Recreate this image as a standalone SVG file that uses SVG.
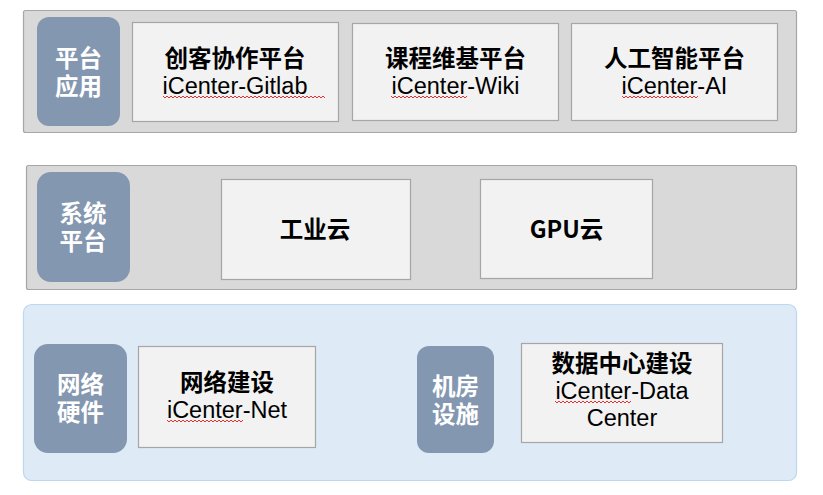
<svg xmlns="http://www.w3.org/2000/svg" width="823" height="495" viewBox="0 0 823 495">
<defs>
<style>
.panel{fill:#d9d9d9;stroke:#a6a6a6;stroke-width:1.2}
.panelb{fill:#deeaf6;stroke:#bdd7ee;stroke-width:1.2}
.lab{fill:#8497b0}
.box{fill:#f2f2f2;stroke:#a6a6a6;stroke-width:1.2}
.lt{font-family:"Liberation Sans","Noto Sans CJK SC",sans-serif;font-weight:bold;font-size:23.5px;fill:#ffffff;text-anchor:middle}
.bt{font-family:"Noto Sans CJK SC","Liberation Sans",sans-serif;font-weight:bold;font-size:23.5px;fill:#000000;text-anchor:middle}
.rt{font-family:"Liberation Sans",Arial,sans-serif;font-size:23.5px;fill:#000000;text-anchor:middle}
.sq{fill:none;stroke:#e83030;stroke-width:1}
</style>
</defs>
<g id="layer-app">
<rect class="panel" x="23.5" y="10.5" width="773" height="122" rx="2"/>
</g>
<g id="layer-sys">
<rect class="panel" x="26.5" y="165.5" width="770" height="124" rx="2"/>
</g>
<g id="layer-hw">
<rect class="panelb" x="23.5" y="304.5" width="773" height="176" rx="8"/>
</g>
<g id="label-app">
<rect class="lab" x="37" y="17" width="83" height="109" rx="12"/>
<text class="lt" x="78.5" y="66.5">平台</text>
<text class="lt" x="78.5" y="94.5">应用</text>
</g>
<g id="node-gitlab">
<rect class="box" x="132.5" y="22.5" width="206" height="99"/>
<text class="bt" x="235" y="66.5">创客协作平台</text>
<text class="rt" x="235" y="94">iCenter-Gitlab</text>
<path class="sq" d="M163,96 l2,2 l2,-2 l2,2 l2,-2 l2,2 l2,-2 l2,2 l2,-2 l2,2 l2,-2 l2,2 l2,-2 l2,2 l2,-2 l2,2 l2,-2 l2,2 l2,-2 l2,2 l2,-2 l2,2 l2,-2 l2,2 l2,-2 l2,2 l2,-2 l2,2 l2,-2 l2,2 l2,-2 l2,2 l2,-2 l2,2 l2,-2 l2,2 l2,-2 l2,2 l2,-2 l2,2 l2,-2 l2,2 l2,-2 l2,2 l2,-2 l2,2 l2,-2 l2,2 l2,-2 l2,2 l2,-2 l2,2 l2,-2 l2,2 l2,-2 l2,2 l2,-2 l2,2 l2,-2 l2,2 l2,-2 l2,2 l2,-2 l2,2 l2,-2 l2,2 l2,-2 l2,2 l2,-2 l2,2 l2,-2 l2,2 l2,-2 l2,2 l2,-2 l2,2 l2,-2 l2,2 l2,-2 l2,2 l2,-2 l2,2"/>
</g>
<g id="node-wiki">
<rect class="box" x="352.5" y="23.5" width="206" height="97"/>
<text class="bt" x="455.5" y="66.5">课程维基平台</text>
<text class="rt" x="455.5" y="94">iCenter-Wiki</text>
<path class="sq" d="M391,96 l2,2 l2,-2 l2,2 l2,-2 l2,2 l2,-2 l2,2 l2,-2 l2,2 l2,-2 l2,2 l2,-2 l2,2 l2,-2 l2,2 l2,-2 l2,2 l2,-2 l2,2 l2,-2 l2,2 l2,-2 l2,2 l2,-2 l2,2 l2,-2 l2,2 l2,-2 l2,2 l2,-2 l2,2 l2,-2 l2,2 l2,-2 l2,2 l2,-2 l2,2 l2,-2"/>
</g>
<g id="node-ai">
<rect class="box" x="571.5" y="23.5" width="206" height="97"/>
<text class="bt" x="674.5" y="66.5">人工智能平台</text>
<text class="rt" x="674.5" y="94">iCenter-AI</text>
<path class="sq" d="M622,96 l2,2 l2,-2 l2,2 l2,-2 l2,2 l2,-2 l2,2 l2,-2 l2,2 l2,-2 l2,2 l2,-2 l2,2 l2,-2 l2,2 l2,-2 l2,2 l2,-2 l2,2 l2,-2 l2,2 l2,-2 l2,2 l2,-2 l2,2 l2,-2 l2,2 l2,-2 l2,2 l2,-2 l2,2 l2,-2 l2,2 l2,-2 l2,2 l2,-2 l2,2 l2,-2"/>
</g>
<g id="label-sys">
<rect class="lab" x="37" y="172" width="93" height="110" rx="14"/>
<text class="lt" x="83" y="221.5">系统</text>
<text class="lt" x="83" y="249.5">平台</text>
</g>
<g id="node-industry">
<rect class="box" x="221.5" y="179.5" width="189" height="100"/>
<text class="bt" x="315" y="237.5">工业云</text>
</g>
<g id="node-gpu">
<rect class="box" x="480.5" y="179.5" width="172" height="99"/>
<text class="bt" x="566.5" y="237.5">GPU云</text>
</g>
<g id="label-net">
<rect class="lab" x="34" y="344" width="93" height="109" rx="14"/>
<text class="lt" x="80.5" y="392.5">网络</text>
<text class="lt" x="80.5" y="420.5">硬件</text>
</g>
<g id="node-net">
<rect class="box" x="138.5" y="346.5" width="177" height="101"/>
<text class="bt" x="227" y="390.5">网络建设</text>
<text class="rt" x="227" y="418">iCenter-Net</text>
<path class="sq" d="M167,420 l2,2 l2,-2 l2,2 l2,-2 l2,2 l2,-2 l2,2 l2,-2 l2,2 l2,-2 l2,2 l2,-2 l2,2 l2,-2 l2,2 l2,-2 l2,2 l2,-2 l2,2 l2,-2 l2,2 l2,-2 l2,2 l2,-2 l2,2 l2,-2 l2,2 l2,-2 l2,2 l2,-2 l2,2 l2,-2 l2,2 l2,-2 l2,2 l2,-2 l2,2 l2,-2"/>
</g>
<g id="label-room">
<rect class="lab" x="417" y="346" width="77" height="107" rx="12"/>
<text class="lt" x="455.5" y="394.5">机房</text>
<text class="lt" x="455.5" y="422.5">设施</text>
</g>
<g id="node-dc">
<rect class="box" x="521.5" y="343.5" width="201" height="99"/>
<text class="bt" x="622" y="371.5">数据中心建设</text>
<text class="rt" x="622" y="399">iCenter-Data</text>
<text class="rt" x="622" y="426">Center</text>
<path class="sq" d="M555,401 l2,2 l2,-2 l2,2 l2,-2 l2,2 l2,-2 l2,2 l2,-2 l2,2 l2,-2 l2,2 l2,-2 l2,2 l2,-2 l2,2 l2,-2 l2,2 l2,-2 l2,2 l2,-2 l2,2 l2,-2 l2,2 l2,-2 l2,2 l2,-2 l2,2 l2,-2 l2,2 l2,-2 l2,2 l2,-2 l2,2 l2,-2 l2,2 l2,-2 l2,2 l2,-2"/>
</g>
<g id="connectors"></g>
</svg>
